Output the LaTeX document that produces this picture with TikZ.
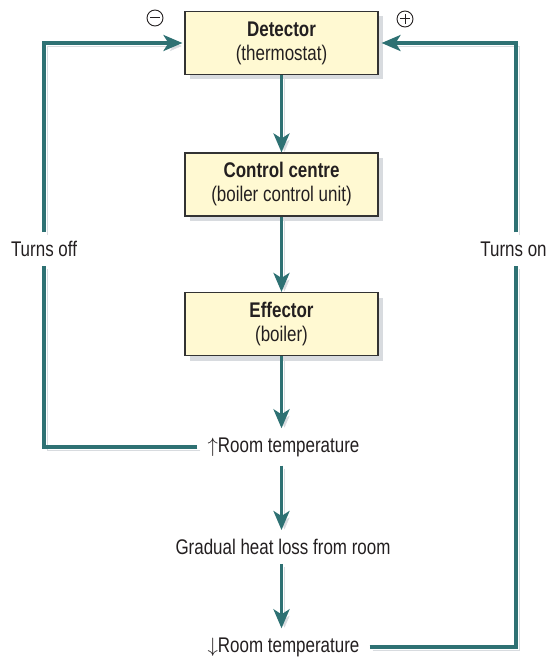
\documentclass[tikz,border=0pt]{standalone}
\usepackage{fontspec}
\setmainfont[FakeStretch=0.8]{Liberation Sans}
\usetikzlibrary{arrows.meta,shadows}
\definecolor{teal1}{RGB}{46,113,115}
\definecolor{boxfill}{RGB}{255,249,210}
\definecolor{shgrey}{RGB}{216,219,223}
\definecolor{txt}{RGB}{35,31,32}
\begin{document}
\begin{tikzpicture}[x=1pt,y=-1pt,
  every node/.style={font=\fontsize{21.2}{24}\selectfont, text=txt},
  blockbox/.style={draw=black!80, line width=1.1pt, fill=boxfill, minimum width=193pt, minimum height=63pt, align=center, inner sep=0pt,
    drop shadow={shadow xshift=5pt, shadow yshift=-5pt, fill=shgrey, opacity=1}},
  lbl/.style={inner xsep=10pt, inner ysep=9pt},
  conn/.style={draw=teal1, line width=3.3pt, preaction={draw=shgrey, transform canvas={xshift=3pt, yshift=-3pt}}},
  arr/.style={conn, -{Stealth[length=19pt, width=16pt, inset=5pt]}},
  sign/.style={circle, draw=txt, line width=0.9pt, minimum size=16pt, inner sep=0pt},
  signbar/.style={draw=txt, line width=1pt}
]
\useasboundingbox (0,0) rectangle (548,658);

\node[blockbox] (det) at (281.5,43) {\textbf{Detector}\\(thermostat)};
\node[blockbox] (ctl) at (281.5,184.5) {\textbf{Control centre}\\(boiler control unit)};
\node[blockbox] (eff) at (281.5,324) {\textbf{Effector}\\(boiler)};
\node[lbl] (up) at (283.5,447) {$\uparrow$Room temperature};
\node[lbl] (grad) at (283,547) {Gradual heat loss from room};
\node[lbl] (down) at (283.5,647) {$\downarrow$Room temperature};
\node[lbl] (toff) at (44,249) {Turns off};
\node[lbl] (ton) at (513.5,249) {Turns on};

\node[sign] (minus) at (155,18) {};
\draw[signbar] ([xshift=3.5pt]minus.west) -- ([xshift=-3.5pt]minus.east);
\node[sign] (plus) at (405,19) {};
\draw[signbar] ([xshift=3.5pt]plus.west) -- ([xshift=-3.5pt]plus.east);
\draw[signbar] ([yshift=-3.5pt]plus.north) -- ([yshift=3.5pt]plus.south);

\coordinate (rtop) at (516,43);

% main chain
\draw[arr] (det.south) -- (ctl.north);
\draw[arr] (ctl.south) -- (eff.north);
\draw[arr] (eff.south) -- (eff.south |- up.north);
\draw[arr] (eff.south |- up.south) -- (eff.south |- grad.north);
\draw[arr] (eff.south |- grad.south) -- (eff.south |- down.north);

% negative feedback loop (left)
\draw[conn] (up.west) -| (toff.south);
\draw[arr, shorten >=2pt] (toff.north) |- (det.west);

% positive loop (right)
\draw[conn] (down.east) -| (rtop |- ton.south);
\draw[arr, shorten >=3pt] (rtop |- ton.north) |- (det.east);
\end{tikzpicture}
\end{document}
